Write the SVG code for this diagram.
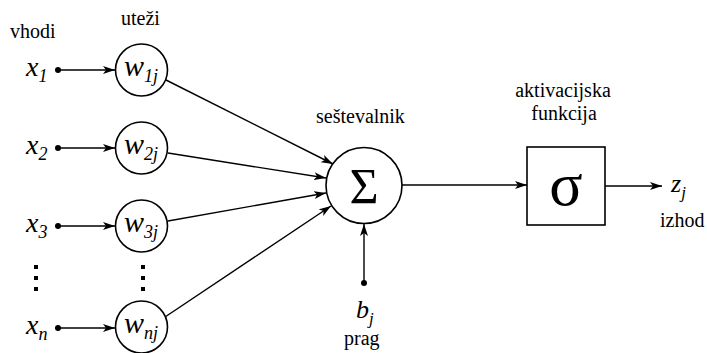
<svg xmlns="http://www.w3.org/2000/svg" width="707" height="353" viewBox="0 0 707 353">
<defs>
<marker id="ah" viewBox="0 0 12 8" refX="12" refY="4" markerWidth="12" markerHeight="8" markerUnits="userSpaceOnUse" orient="auto">
<path d="M0,0 L12,4 L0,8 L3,4 Z" fill="#000"/>
</marker>
</defs>
<rect width="707" height="353" fill="#fff"/>
<g id="connectors" stroke="#000" stroke-width="1.4" fill="none">
<line marker-end="url(#ah)" x1="58" y1="70" x2="115" y2="70"/>
<line marker-end="url(#ah)" x1="58" y1="148" x2="115" y2="148"/>
<line marker-end="url(#ah)" x1="58" y1="226" x2="115" y2="226"/>
<line marker-end="url(#ah)" x1="58" y1="328" x2="115" y2="328"/>
<line marker-end="url(#ah)" x1="166" y1="80" x2="333" y2="164"/>
<line marker-end="url(#ah)" x1="168" y1="153" x2="326" y2="178"/>
<line marker-end="url(#ah)" x1="168" y1="221" x2="326" y2="193"/>
<line marker-end="url(#ah)" x1="165" y1="317" x2="331" y2="206"/>
<line marker-end="url(#ah)" x1="364" y1="283" x2="364" y2="224"/>
<line marker-end="url(#ah)" x1="402" y1="185" x2="527" y2="185"/>
<line marker-end="url(#ah)" x1="605" y1="186" x2="662" y2="186"/>
<g fill="#000" stroke="none">
<circle cx="58" cy="70" r="3"/>
<circle cx="58" cy="148" r="3"/>
<circle cx="58" cy="226" r="3"/>
<circle cx="58" cy="328" r="3"/>
<circle cx="364" cy="283" r="3"/>
</g>
</g>
<g id="labels" font-size="20" fill="#000">
<text font-family="Liberation Serif" x="10" y="38">vhodi</text>
<text font-family="Liberation Serif" x="121" y="25">ute&#382;i</text>
<text font-family="Liberation Serif" x="316" y="123">se&#353;tevalnik</text>
<text font-family="Liberation Serif" x="563" y="97" text-anchor="middle">aktivacijska</text>
<text font-family="Liberation Serif" x="564" y="120" text-anchor="middle">funkcija</text>
<text font-family="Liberation Serif" x="660" y="227">izhod</text>
<text font-family="Liberation Serif" x="344" y="345">prag</text>
</g>
<g id="inputs" font-style="italic" fill="#000">
<text font-family="Liberation Serif" x="26" y="76" font-size="28">x<tspan font-size="18" dy="6">1</tspan></text>
<text font-family="Liberation Serif" x="26" y="154" font-size="28">x<tspan font-size="18" dy="6">2</tspan></text>
<text font-family="Liberation Serif" x="26" y="232" font-size="28">x<tspan font-size="18" dy="6">3</tspan></text>
<text font-family="Liberation Serif" x="26" y="334" font-size="28">x<tspan font-size="18" dy="6">n</tspan></text>
<rect x="34" y="265" width="4" height="4"/>
<rect x="34" y="276" width="4" height="4"/>
<rect x="34" y="287" width="4" height="4"/>
<rect x="141" y="265" width="4" height="4"/>
<rect x="141" y="276" width="4" height="4"/>
<rect x="141" y="287" width="4" height="4"/>
</g>
<g id="w1">
<circle cx="141.5" cy="70" r="26" fill="#fff" stroke="#000" stroke-width="1.6"/>
<text font-family="Liberation Serif" font-style="italic" x="124" y="76" font-size="30">w<tspan font-size="18" dy="6">1j</tspan></text>
</g>
<g id="w2">
<circle cx="141.5" cy="148" r="26" fill="#fff" stroke="#000" stroke-width="1.6"/>
<text font-family="Liberation Serif" font-style="italic" x="124" y="154" font-size="30">w<tspan font-size="18" dy="6">2j</tspan></text>
</g>
<g id="w3">
<circle cx="141.5" cy="226" r="26" fill="#fff" stroke="#000" stroke-width="1.6"/>
<text font-family="Liberation Serif" font-style="italic" x="124" y="232" font-size="30">w<tspan font-size="18" dy="6">3j</tspan></text>
</g>
<g id="wn">
<circle cx="141.5" cy="327" r="26" fill="#fff" stroke="#000" stroke-width="1.6"/>
<text font-family="Liberation Serif" font-style="italic" x="124" y="333" font-size="30">w<tspan font-size="18" dy="6">nj</tspan></text>
</g>
<g id="sum">
<circle cx="364" cy="185.5" r="38" fill="#fff" stroke="#000" stroke-width="1.6"/>
<text font-family="Liberation Serif" x="364" y="203" font-size="50" text-anchor="middle">&#931;</text>
</g>
<g id="act">
<rect x="527" y="147" width="78" height="78" fill="#fff" stroke="#000" stroke-width="1.6"/>
<text font-family="Liberation Serif" x="566" y="205" font-size="62" text-anchor="middle">&#963;</text>
</g>
<g id="bias">
<text font-family="Liberation Serif" font-style="italic" x="356" y="318" font-size="26">b<tspan font-size="17" dy="6">j</tspan></text>
</g>
<g id="output">
<text font-family="Liberation Serif" font-style="italic" x="671" y="192" font-size="26">z<tspan font-size="17" dy="6">j</tspan></text>
</g>
</svg>
